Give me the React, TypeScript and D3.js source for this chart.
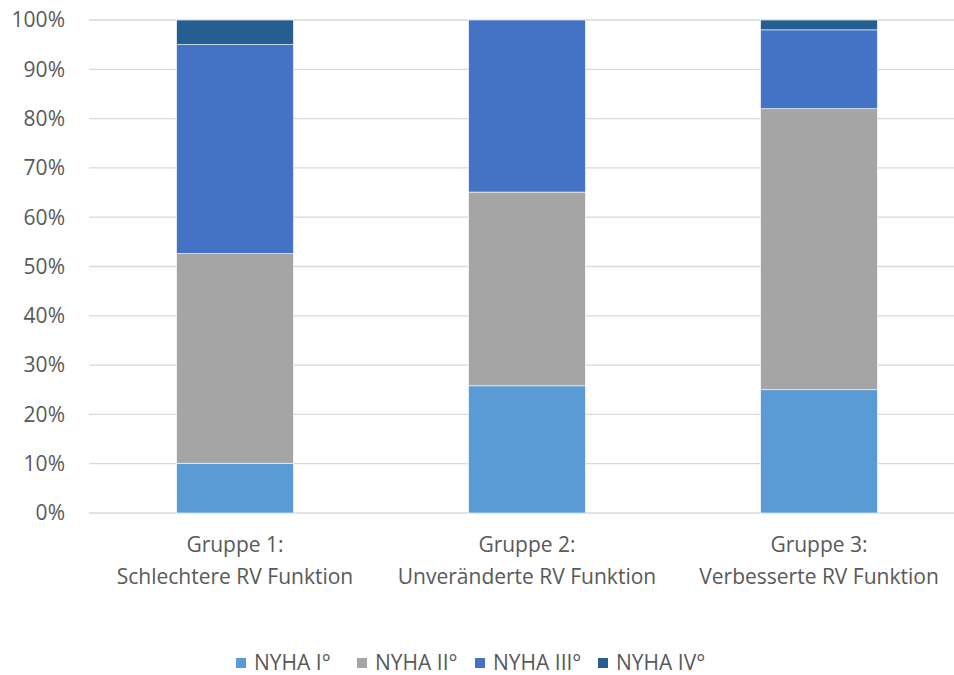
import React from "react";
import * as d3 from "d3";

const categories = [
  ["Gruppe 1:", "Schlechtere RV Funktion"],
  ["Gruppe 2:", "Unveränderte RV Funktion"],
  ["Gruppe 3:", "Verbesserte RV Funktion"],
];
const seriesNames = ["NYHA I°", "NYHA II°", "NYHA III°", "NYHA IV°"];
const nyha1 = [10.1, 25.8, 25.0];
const nyha2 = [42.5, 39.3, 57.0];
const nyha3 = [42.4, 34.9, 16.0];
const nyha4 = [5.0, 0.0, 2.0];
const yTicks = [0, 10, 20, 30, 40, 50, 60, 70, 80, 90, 100];
const colors = ["#5B9BD5", "#A5A5A5", "#4472C4", "#255E91"];

const W = 954;
const H = 675;
const FONT = "'Open Sans', sans-serif";
const TEXT = "#595959";
const FS = 21;

export default function App() {
  const series = [nyha1, nyha2, nyha3, nyha4];
  const rows = categories.map((c, i) => {
    const r: Record<string, number | string> = { key: String(i) };
    seriesNames.forEach((s, j) => (r[s] = series[j][i]));
    return r;
  });
  const stacked = d3.stack<any>().keys(seriesNames)(rows);

  const x = d3
    .scaleBand<string>()
    .domain(categories.map((_, i) => String(i)))
    .range([89, 965])
    .paddingInner(0.6)
    .paddingOuter(0.3);
  const y = d3.scaleLinear().domain([0, 100]).range([513, 20]);

  const legendX = [236, 357, 475, 598];

  return (
    <svg
      width={W}
      height={H}
      style={{ position: "absolute", left: 0, top: 0, background: "#fff" }}
      fontFamily={FONT}
    >
      {yTicks.map((t) => (
        <g key={t}>
          <line x1={89} x2={W} y1={y(t)} y2={y(t)} stroke="#D9D9D9" strokeWidth={1.3} />
          <text x={65} y={y(t)} dy="0.35em" textAnchor="end" fontSize={FS} fill={TEXT}>
            {t}%
          </text>
        </g>
      ))}
      {stacked.map((layer, j) => (
        <g key={layer.key} fill={colors[j]}>
          {layer.map((d, i) =>
            d[1] - d[0] > 0 ? (
              <rect
                key={i}
                x={x(String(i))}
                width={x.bandwidth()}
                y={y(d[1])}
                height={y(d[0]) - y(d[1])}
                stroke="#fff"
                strokeWidth={0.6}
              />
            ) : null
          )}
        </g>
      ))}
      {categories.map((c, i) => (
        <text
          key={i}
          x={(x(String(i)) as number) + x.bandwidth() / 2}
          textAnchor="middle"
          fontSize={FS}
          fill={TEXT}
        >
          <tspan x={(x(String(i)) as number) + x.bandwidth() / 2} y={552}>
            {c[0]}
          </tspan>
          <tspan x={(x(String(i)) as number) + x.bandwidth() / 2} y={584}>
            {c[1]}
          </tspan>
        </text>
      ))}
      {seriesNames.map((s, j) => (
        <g key={s} transform={`translate(${legendX[j]},663)`}>
          <rect x={0} y={-5} width={10} height={10} fill={colors[j]} />
          <text x={18} y={7} fontSize={FS} fill={TEXT}>
            {s}
          </text>
        </g>
      ))}
    </svg>
  );
}
